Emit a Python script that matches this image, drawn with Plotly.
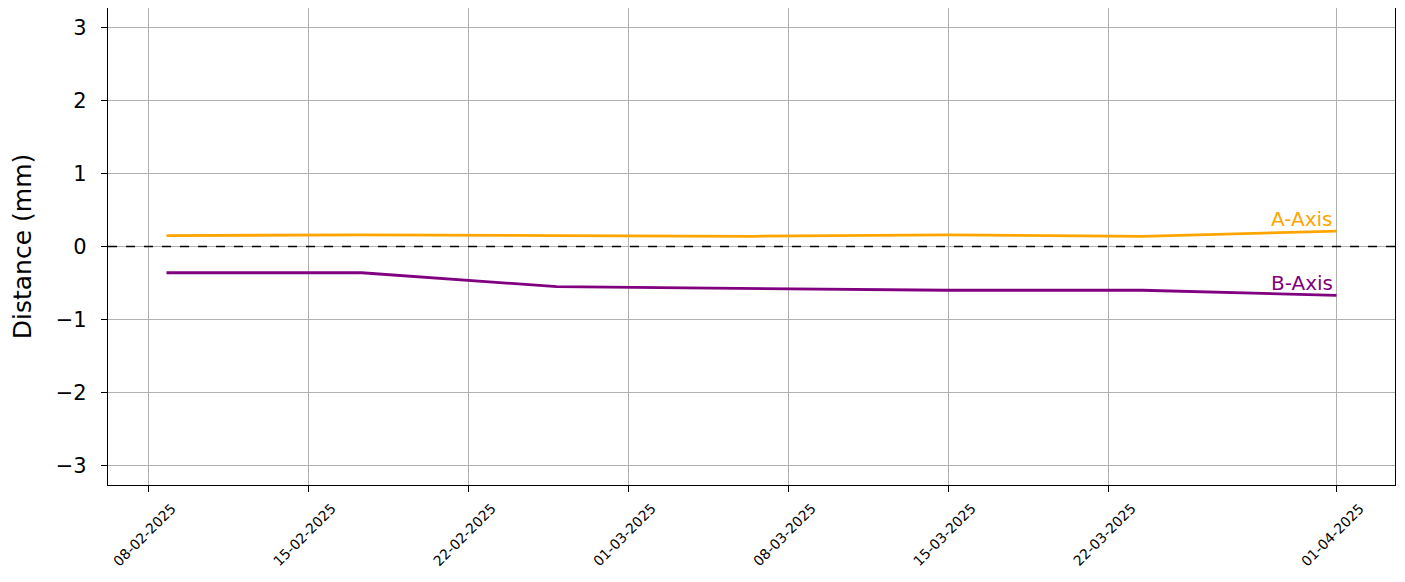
import pandas as pd
import plotly.graph_objects as go

dates = pd.to_datetime([
    "2025-02-08 19:00", "2025-02-17 08:00", "2025-02-25 21:00",
    "2025-03-06 10:00", "2025-03-14 23:00", "2025-03-23 12:00",
    "2025-04-01 00:00",
])
a_axis = [0.15, 0.16, 0.15, 0.14, 0.16, 0.14, 0.21]
b_axis = [-0.36, -0.36, -0.55, -0.57, -0.60, -0.60, -0.67]

tick_dates = pd.to_datetime([
    "2025-02-08", "2025-02-15", "2025-02-22", "2025-03-01",
    "2025-03-08", "2025-03-15", "2025-03-22", "2025-04-01",
])
tick_text = [d.strftime("%d-%m-%Y") for d in tick_dates]
y_ticks = [-3, -2, -1, 0, 1, 2, 3]

font = "DejaVu Sans, Arial, sans-serif"

# 5% padding either side, like matplotlib's default margins
span = dates[-1] - dates[0]
x_range = [dates[0] - span * 0.05, dates[-1] + span * 0.05]

fig = go.Figure()

# zero reference line
fig.add_trace(go.Scatter(
    x=x_range, y=[0, 0], mode="lines",
    line=dict(color="black", width=1.5, dash="dash"),
    showlegend=False, hoverinfo="skip",
))

fig.add_trace(go.Scatter(x=dates, y=a_axis, mode="lines", name="A-Axis",
                         line=dict(color="#FFA500", width=2.8)))
fig.add_trace(go.Scatter(x=dates, y=b_axis, mode="lines", name="B-Axis",
                         line=dict(color="#800080", width=2.8)))

# labels at the line ends
for name, vals, col in [("A-Axis", a_axis, "#FFA500"), ("B-Axis", b_axis, "#800080")]:
    fig.add_annotation(x=dates[-1], y=vals[-1], text=name, showarrow=False,
                       xanchor="right", yanchor="bottom", yshift=-2, xshift=-2,
                       font=dict(color=col, size=20, family=font))

# rotated date labels centred under the ticks (matplotlib style)
for d, txt in zip(tick_dates, tick_text):
    fig.add_annotation(x=d, y=0, xref="x", yref="paper", text=txt,
                       showarrow=False, textangle=-45,
                       xanchor="center", yanchor="top", yshift=-13, xshift=-4,
                       font=dict(size=14, family=font, color="black"))

# page has an 8px body margin, so the figure is sized to fit inside the window
fig.update_layout(
    width=1389, height=566,
    margin=dict(l=100, r=2, t=0, b=89),
    plot_bgcolor="white", paper_bgcolor="white",
    showlegend=False,
    font=dict(family=font, color="black"),
)

fig.update_xaxes(
    range=x_range, tickvals=tick_dates, showticklabels=False,
    showgrid=True, gridcolor="#b0b0b0", gridwidth=0.8,
    ticks="outside", ticklen=6, tickcolor="black",
    showline=True, linecolor="black", linewidth=1.3, mirror=True,
    zeroline=False,
)
fig.update_yaxes(
    range=[-3.27, 3.27], tickvals=y_ticks,
    ticktext=[str(v).replace("-", "\u2212") for v in y_ticks],
    tickfont=dict(size=21), ticklabelstandoff=10,
    title=dict(text="Distance (mm)", font=dict(size=25), standoff=16),
    showgrid=True, gridcolor="#b0b0b0", gridwidth=0.8,
    ticks="outside", ticklen=6, tickcolor="black",
    showline=True, linecolor="black", linewidth=1.3, mirror=True,
    zeroline=False,
)

fig.write_html("out.html")
